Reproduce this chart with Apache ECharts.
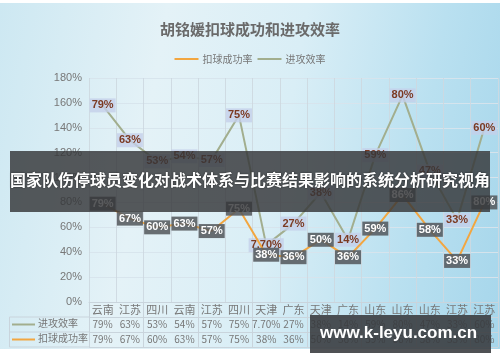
<!DOCTYPE html>
<html>
<head>
<meta charset="utf-8">
<script src="https://cdn.jsdelivr.net/npm/echarts@6/dist/echarts.min.js"></script>
<style>
html, body { margin: 0; padding: 0; background: #ffffff; }
#wrap { position: relative; width: 500px; height: 362px; overflow: hidden; }
#bg { position: absolute; left: 0; top: 3px; width: 500px; height: 346px;
  background: linear-gradient(100deg, #cde8f2 0%, #e4f2f7 30%, #d9eef6 55%, #b9e0f0 80%, #a6d6eb 100%); }
#chart { position: absolute; left: 0; top: 0; width: 500px; height: 362px; }
</style>
</head>
<body>
<div id="wrap"><div id="bg"></div><div id="chart"></div></div>
<script>
var CATS = ['云南', '江苏', '四川', '云南', '江苏', '四川', '天津', '广东', '天津', '广东', '山东', '山东', '山东', '江苏', '江苏'];
var SPIKE = [79, 67, 60, 63, 57, 75, 38, 36, 50, 36, 59, 86, 58, 33, 80];   // 扣球成功率
var ATTACK = [79, 63, 53, 54, 57, 75, 7.7, 27, 38, 14, 59, 80, 47, 33, 60]; // 进攻效率
var Y_TICKS = { min: 0, max: 180, interval: 20 };

var ORANGE = '#f2a640', GREEN = '#a2ae8e', TXT = '#777777', LINE = '#c9d4dc';
var FONT = '"Noto Sans CJK SC", "DejaVu Sans", sans-serif';

function pct(v) {
	return (v % 1 ? v.toFixed(2) : v) + '%';
}

var chart = echarts.init(document.getElementById('chart'), null, { renderer: 'canvas' });

var option = {
	backgroundColor: 'transparent',
	textStyle: { fontFamily: FONT },
	animation: false,
	title: {
		text: '胡铭媛扣球成功和进攻效率',
		left: 'center',
		top: 17,
		textStyle: { fontSize: 15, fontWeight: 'bold', color: '#6a6a6a', fontFamily: FONT }
	},
	legend: {
		top: 49,
		left: 'center',
		data: ['扣球成功率', '进攻效率'],
		icon: 'rect',
		itemWidth: 24,
		itemHeight: 2,
		itemGap: 5,
		textStyle: { fontSize: 10, color: TXT, padding: [0, 0, 0, -1] }
	},
	grid: [
		{ left: 89, right: 2, top: 78, bottom: 60 },
		{ left: 89, right: 2, top: 302, height: 45 }
	],
	xAxis: [{
		type: 'category',
		gridIndex: 0,
		data: CATS,
		boundaryGap: true,
		axisTick: { show: false },
		axisLine: { lineStyle: { color: LINE } },
		splitLine: { show: true, lineStyle: { color: 'rgba(205,216,224,0.9)' } },
		axisLabel: {
			interval: 0,
			margin: 0,
			formatter: function (v, i) {
				return '{c|' + v + '}\n{v|' + pct(ATTACK[i]) + '}\n{v|' + pct(SPIKE[i]) + '}';
			},
			rich: {
				c: { fontSize: 11, color: TXT, lineHeight: 15, fontFamily: FONT },
				v: { fontSize: 10, color: TXT, lineHeight: 15, fontFamily: FONT }
			}
		}
	}, {
		type: 'category',
		gridIndex: 1,
		data: CATS,
		boundaryGap: true,
		axisTick: { show: false },
		axisLine: { show: false },
		axisLabel: { show: false },
		splitLine: { show: true, lineStyle: { color: LINE } }
	}],
	yAxis: [{
		type: 'value',
		gridIndex: 0,
		min: Y_TICKS.min,
		max: Y_TICKS.max,
		interval: Y_TICKS.interval,
		axisLine: { show: false },
		axisTick: { show: false },
		axisLabel: { margin: 7, fontSize: 11, color: TXT, formatter: '{value}%', fontFamily: 'Liberation Sans, Arial, sans-serif' },
		splitLine: { lineStyle: { color: 'rgba(215,228,236,0.95)' } }
	}, {
		type: 'value',
		gridIndex: 1,
		min: 0,
		max: 3,
		interval: 1,
		axisLine: { show: false },
		axisTick: { show: false },
		axisLabel: { show: false },
		splitLine: { lineStyle: { color: LINE } }
	}],
	series: [{
		name: '扣球成功率',
		type: 'line',
		stack: 'all',
		data: SPIKE,
		symbol: 'circle',
		symbolSize: 1,
		itemStyle: { color: ORANGE },
		lineStyle: { color: ORANGE, width: 2 },
		z: 3,
		label: {
			show: true,
			position: 'inside',
			formatter: function (p) { return pct(p.value); },
			color: '#ffffff',
			fontWeight: 'bold',
			fontSize: 11,
			fontFamily: 'Liberation Sans, Arial, sans-serif',
			backgroundColor: 'rgba(85,90,94,0.88)',
			padding: [2, 2, 1, 2]
		}
	}, {
		name: '进攻效率',
		type: 'line',
		stack: 'all',
		data: ATTACK,
		symbol: 'circle',
		symbolSize: 1,
		itemStyle: { color: GREEN },
		lineStyle: { color: GREEN, width: 2 },
		z: 2,
		label: {
			show: true,
			position: 'inside',
			formatter: function (p) { return pct(p.value); },
			color: '#7b3a22',
			fontWeight: 'bold',
			fontSize: 11,
			fontFamily: 'Liberation Sans, Arial, sans-serif',
			backgroundColor: 'rgba(196,208,234,0.8)',
			padding: [2, 2, 1, 2]
		}
	}],
	graphic: [
		// data table row headers
		{ type: 'polyline', shape: { points: [[89, 317], [9.5, 317], [9.5, 347], [89, 347]] }, style: { stroke: LINE, fill: null, lineWidth: 1 }, silent: true },
		{ type: 'line', shape: { x1: 9.5, y1: 332, x2: 89, y2: 332 }, style: { stroke: LINE, lineWidth: 1 }, silent: true },
		{ type: 'line', shape: { x1: 12, y1: 324.5, x2: 35, y2: 324.5 }, style: { stroke: GREEN, lineWidth: 2 }, silent: true },
		{ type: 'line', shape: { x1: 12, y1: 339.5, x2: 35, y2: 339.5 }, style: { stroke: ORANGE, lineWidth: 2 }, silent: true },
		{ type: 'text', left: 38, top: 318, style: { text: '进攻效率', fill: TXT, font: '10px ' + FONT }, silent: true },
		{ type: 'text', left: 38, top: 333, style: { text: '扣球成功率', fill: TXT, font: '10px ' + FONT }, silent: true },
		// overlay banner
		{ type: 'rect', z: 100, shape: { x: 10, y: 151, width: 480, height: 61 }, style: { fill: 'rgba(52,54,56,0.82)' }, silent: true },
		{ type: 'text', z: 101, left: 'center', top: 172, style: { text: '国家队伤停球员变化对战术体系与比赛结果影响的系统分析研究视角', fill: '#ffffff', font: 'bold 16px ' + FONT, textShadowColor: 'rgba(0,0,0,0.6)', textShadowBlur: 2 }, silent: true },
		// watermark
		{ type: 'rect', z: 100, shape: { x: 310, y: 315, width: 181, height: 38 }, style: { fill: 'rgba(55,57,60,0.88)' }, silent: true },
		{ type: 'text', z: 101, left: 320, top: 325, style: { text: 'www.k-leyu.com.cn', fill: '#ffffff', font: 'bold 17px "Liberation Sans", Arial, sans-serif' }, silent: true }
	]
};

chart.setOption(option);
</script>
</body>
</html>
